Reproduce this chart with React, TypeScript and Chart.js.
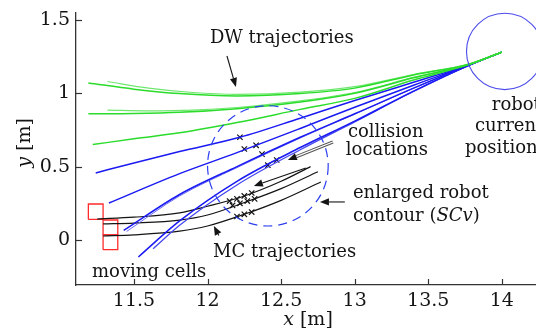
import { useEffect, useRef } from "react";
import { Chart, registerables } from "chart.js";

Chart.register(...registerables);

// Axis ranges and ticks (metres)
const X_RANGE = [11.106, 14.231];
const Y_RANGE = [-0.307, 1.547];
const X_TICKS = [11.5, 12, 12.5, 13, 13.5, 14];
const Y_TICKS = [0, 0.5, 1, 1.5];

// Dynamic-window trajectories that stay free (green)
const GREEN_1A = [[11.19, 1.07], [11.5, 1.028], [11.81, 0.998], [12.2, 0.982], [12.63, 0.998], [13.0, 1.035], [13.4, 1.125], [13.78, 1.2], [14.0, 1.28]];
const GREEN_1B = [[11.32, 1.08], [11.6, 1.035], [11.9, 1.005], [12.2, 0.993], [12.63, 1.008], [13.0, 1.045], [13.4, 1.128], [13.78, 1.2], [14.0, 1.28]];
const GREEN_2A = [[11.19, 0.86], [11.5, 0.862], [11.81, 0.87], [12.2, 0.895], [12.63, 0.94], [13.0, 1.0], [13.4, 1.105], [13.78, 1.198], [14.0, 1.28]];
const GREEN_2B = [[11.32, 0.885], [11.6, 0.88], [11.9, 0.885], [12.2, 0.903], [12.63, 0.948], [13.0, 1.005], [13.4, 1.108], [13.78, 1.198], [14.0, 1.28]];
const GREEN_3 = [[11.22, 0.65], [11.5, 0.69], [11.81, 0.73], [12.2, 0.8], [12.63, 0.89], [13.0, 0.965], [13.4, 1.09], [13.78, 1.197], [14.0, 1.28]];

// Dynamic-window trajectories in collision (blue)
const BLUE_1 = [[11.24, 0.457], [11.5, 0.525], [11.81, 0.603], [12.22, 0.7], [12.63, 0.83], [13.0, 0.95], [13.4, 1.075], [13.78, 1.195], [14.0, 1.28]];
const BLUE_2 = [[11.33, 0.252], [11.81, 0.452], [12.2, 0.595], [12.63, 0.76], [13.0, 0.905], [13.4, 1.055], [13.78, 1.194], [14.0, 1.28]];
const BLUE_3A = [[11.43, 0.065], [11.81, 0.31], [12.2, 0.5], [12.63, 0.7], [13.0, 0.86], [13.4, 1.035], [13.78, 1.193], [14.0, 1.28]];
const BLUE_3B = [[11.45, 0.058], [11.81, 0.3], [12.2, 0.493], [12.63, 0.695], [13.0, 0.857], [13.4, 1.034], [13.78, 1.193], [14.0, 1.28]];
const BLUE_4A = [[11.53, -0.116], [11.81, 0.13], [12.2, 0.4], [12.63, 0.63], [13.0, 0.81], [13.4, 1.015], [13.78, 1.192], [14.0, 1.28]];
const BLUE_4B = [[11.63, -0.06], [11.81, 0.1], [12.2, 0.375], [12.63, 0.615], [13.0, 0.805], [13.4, 1.012], [13.78, 1.192], [14.0, 1.28]];

// Moving-cell (MC) trajectories (black)
const MC_1 = [[11.25, 0.143], [11.5, 0.155], [11.81, 0.185], [12.0, 0.23], [12.25, 0.3], [12.5, 0.4], [12.7, 0.5]];
const MC_2 = [[11.29, 0.109], [11.5, 0.115], [11.81, 0.135], [12.0, 0.17], [12.25, 0.255], [12.5, 0.35], [12.75, 0.465]];
const MC_3 = [[11.29, 0.027], [11.5, 0.035], [11.81, 0.06], [12.0, 0.095], [12.25, 0.175], [12.5, 0.27], [12.77, 0.395]];

// Collision locations
const HITS_DW = [[12.22, 0.7], [12.25, 0.62], [12.33, 0.645], [12.37, 0.585], [12.41, 0.51], [12.47, 0.545]];
const HITS_MC = [[12.15, 0.265], [12.2, 0.28], [12.25, 0.3], [12.3, 0.32], [12.17, 0.235], [12.22, 0.25], [12.27, 0.265], [12.32, 0.28], [12.2, 0.16], [12.25, 0.175], [12.3, 0.19]];

// Occupied moving cells (corners, closed)
const CELL_A = [[11.19, 0.14], [11.29, 0.14], [11.29, 0.245], [11.19, 0.245], [11.19, 0.14]];
const CELL_B = [[11.29, 0.035], [11.39, 0.035], [11.39, 0.136], [11.29, 0.136], [11.29, 0.035]];
const CELL_C = [[11.29, -0.066], [11.39, -0.066], [11.39, 0.035], [11.29, 0.035], [11.29, -0.066]];

// Robot footprint and enlarged contour SCv: centre x, centre y, radius
const ROBOT = [14.02, 1.285, 0.26];
const SCV = [12.41, 0.505, 0.41];

const SERIF = '"DejaVu Serif", serif';
const INK = "#141414";
const BLUE = "#1a1af2";
const GREEN = "#2bdc2b";

// the cross markers make Chart.js reserve a few pixels on the right;
// the canvas is drawn a little wider and the frame crops it
const VIEW_W = 536;
const VIEW_H = 331;
const CANVAS_W = 541;

type Pt = number[];

function curve(pts: Pt[], color: string, width = 1.5, smooth = true) {
  return {
    data: pts.map(([x, y]) => ({ x, y })),
    borderColor: color,
    backgroundColor: color,
    borderWidth: width,
    showLine: true,
    pointRadius: 0,
    fill: false,
    tension: smooth ? 0.35 : 0,
    cubicInterpolationMode: smooth ? "monotone" : "default",
  };
}

function crosses(pts: Pt[]) {
  return {
    data: pts.map(([x, y]) => ({ x, y })),
    showLine: false,
    pointStyle: "crossRot",
    pointRadius: 3.8,
    borderColor: INK,
    backgroundColor: INK,
    pointBorderWidth: 1.2,
  };
}

function arrow(ctx: CanvasRenderingContext2D, x1: number, y1: number, x2: number, y2: number, double = false) {
  const ang = Math.atan2(y2 - y1, x2 - x1);
  const len = 9;
  const half = 3.6;
  const bx = x2 - len * Math.cos(ang);
  const by = y2 - len * Math.sin(ang);
  ctx.save();
  ctx.lineCap = "butt";
  if (double) {
    ctx.strokeStyle = "#555";
    ctx.lineWidth = 3.2;
    ctx.beginPath();
    ctx.moveTo(x1, y1);
    ctx.lineTo(bx, by);
    ctx.stroke();
    ctx.strokeStyle = "#fff";
    ctx.lineWidth = 1.2;
    ctx.beginPath();
    ctx.moveTo(x1, y1);
    ctx.lineTo(bx, by);
    ctx.stroke();
  } else {
    ctx.strokeStyle = INK;
    ctx.lineWidth = 1.1;
    ctx.beginPath();
    ctx.moveTo(x1, y1);
    ctx.lineTo(bx, by);
    ctx.stroke();
  }
  ctx.fillStyle = INK;
  ctx.beginPath();
  ctx.moveTo(x2, y2);
  ctx.lineTo(bx + half * Math.sin(ang), by - half * Math.cos(ang));
  ctx.lineTo(bx - half * Math.sin(ang), by + half * Math.cos(ang));
  ctx.closePath();
  ctx.fill();
  ctx.restore();
}

const overlay = {
  id: "overlay",
  afterDatasetsDraw(chart: any) {
    const ctx: CanvasRenderingContext2D = chart.ctx;
    const xs = chart.scales.x;
    const ys = chart.scales.y;
    const area = chart.chartArea;
    const px = (v: number) => xs.getPixelForValue(v);
    const py = (v: number) => ys.getPixelForValue(v);

    ctx.save();

    // robot footprint
    ctx.strokeStyle = "#4b4bec";
    ctx.lineWidth = 1.1;
    ctx.beginPath();
    ctx.ellipse(px(ROBOT[0]), py(ROBOT[1]), px(ROBOT[0] + ROBOT[2]) - px(ROBOT[0]), py(ROBOT[1]) - py(ROBOT[1] + ROBOT[2]), 0, 0, Math.PI * 2);
    ctx.stroke();

    // enlarged robot contour
    ctx.strokeStyle = "#2b3ff0";
    ctx.lineWidth = 1.2;
    ctx.setLineDash([9, 6]);
    ctx.beginPath();
    ctx.ellipse(px(SCV[0]), py(SCV[1]), px(SCV[0] + SCV[2]) - px(SCV[0]), py(SCV[1]) - py(SCV[1] + SCV[2]), 0, 0, Math.PI * 2);
    ctx.stroke();
    ctx.setLineDash([]);

    // inward tick marks
    ctx.strokeStyle = "#333";
    ctx.lineWidth = 1.2;
    for (const v of Y_TICKS) {
      const y = Math.round(py(v)) + 0.5;
      ctx.beginPath();
      ctx.moveTo(area.left, y);
      ctx.lineTo(area.left + 6, y);
      ctx.stroke();
    }
    for (const v of X_TICKS) {
      const x = Math.round(px(v)) + 0.5;
      ctx.beginPath();
      ctx.moveTo(x, area.bottom);
      ctx.lineTo(x, area.bottom - 6);
      ctx.stroke();
    }

    // arrows
    arrow(ctx, px(12.132), py(1.254), px(12.193), py(1.043));
    arrow(ctx, px(12.852), py(0.668), px(12.546), py(0.545), true);
    arrow(ctx, px(12.668), py(0.491), px(12.315), py(0.368));
    arrow(ctx, px(12.933), py(0.259), px(12.764), py(0.259));
    arrow(ctx, px(12.077), py(0.03), px(12.043), py(0.095));

    // annotations
    ctx.fillStyle = INK;
    ctx.textAlign = "left";
    ctx.textBaseline = "alphabetic";
    ctx.font = `18px ${SERIF}`;
    const put = (t: string, x: number, y: number) => ctx.fillText(t, px(x), py(y));
    put("DW trajectories", 12.016, 1.343);
    put("robot", 13.932, 0.886);
    put("current", 13.817, 0.743);
    put("position", 13.749, 0.593);
    put("collision", 12.954, 0.702);
    put("locations", 12.94, 0.579);
    put("enlarged robot", 12.988, 0.286);
    put("MC trajectories", 12.037, -0.116);
    put("moving cells", 11.215, -0.252);

    // contour (SCv) with italic symbol
    let cx = px(12.988);
    const cy = py(0.13);
    const seg = (t: string, italic: boolean) => {
      ctx.font = `${italic ? "italic " : ""}18px ${SERIF}`;
      ctx.fillText(t, cx, cy);
      cx += ctx.measureText(t).width;
    };
    seg("contour (", false);
    seg("SCv", true);
    seg(")", false);

    // axis titles
    ctx.font = `italic 19px ${SERIF}`;
    const wX = ctx.measureText("x").width;
    ctx.font = `19px ${SERIF}`;
    const mPart = " [m]";
    const wM = ctx.measureText(mPart).width;
    const tx = 308 - (wX + wM) / 2;
    ctx.font = `italic 19px ${SERIF}`;
    ctx.fillText("x", tx, 325);
    ctx.font = `19px ${SERIF}`;
    ctx.fillText(mPart, tx + wX, 325);

    ctx.translate(30, 143);
    ctx.rotate(-Math.PI / 2);
    ctx.font = `italic 19px ${SERIF}`;
    const wY = ctx.measureText("y").width;
    const ty = -(wY + wM) / 2;
    ctx.fillText("y", ty, 0);
    ctx.font = `19px ${SERIF}`;
    ctx.fillText(mPart, ty + wY, 0);

    ctx.restore();
  },
};

export default function App() {
  const ref = useRef<HTMLCanvasElement>(null);

  useEffect(() => {
    const canvas = ref.current;
    if (!canvas) return;

    const datasets: any[] = [
      curve(GREEN_1A, GREEN),
      curve(GREEN_1B, "#6fe86f", 1.2),
      curve(GREEN_2A, GREEN),
      curve(GREEN_2B, "#6fe86f", 1.2),
      curve(GREEN_3, GREEN),
      curve(BLUE_1, BLUE),
      curve(BLUE_2, BLUE),
      curve(BLUE_3A, BLUE),
      curve(BLUE_3B, "#6a6af5", 1),
      curve(BLUE_4A, BLUE),
      curve(BLUE_4B, "#4646f2", 1.3),
      curve(MC_1, INK, 1.2),
      curve(MC_2, INK, 1.2),
      curve(MC_3, INK, 1.2),
      curve(CELL_A, "#ff2a2a", 1.3, false),
      curve(CELL_B, "#ff2a2a", 1.3, false),
      curve(CELL_C, "#ff2a2a", 1.3, false),
      crosses(HITS_DW),
      crosses(HITS_MC),
    ];

    const tickFont = { family: SERIF, size: 19 };

    const chart = new Chart(canvas, {
      type: "scatter",
      data: { datasets },
      plugins: [overlay],
      options: {
        animation: false,
        responsive: false,
        maintainAspectRatio: false,
        events: [],
        layout: { padding: { top: 13, right: 0, left: 0, bottom: 0 } },
        plugins: {
          legend: { display: false },
          tooltip: { enabled: false },
        },
        scales: {
          x: {
            type: "linear",
            min: X_RANGE[0],
            max: X_RANGE[1],
            afterBuildTicks: (s: any) => {
              s.ticks = X_TICKS.map((v) => ({ value: v }));
            },
            afterFit: (s: any) => {
              s.height = 46;
              s.paddingLeft = 0;
              s.paddingRight = 0;
              s.paddingTop = 0;
              s.paddingBottom = 0;
            },
            ticks: {
              font: tickFont,
              color: INK,
              padding: 5,
              maxRotation: 0,
              autoSkip: false,
              callback: (v: any) => String(v),
            },
            grid: { display: true, drawOnChartArea: false, drawTicks: false },
            border: { display: true, color: "#333", width: 1.3 },
          },
          y: {
            type: "linear",
            min: Y_RANGE[0],
            max: Y_RANGE[1],
            afterBuildTicks: (s: any) => {
              s.ticks = Y_TICKS.map((v) => ({ value: v }));
            },
            afterFit: (s: any) => {
              s.width = 76;
              s.paddingLeft = 0;
              s.paddingRight = 0;
              s.paddingTop = 0;
              s.paddingBottom = 0;
            },
            ticks: {
              font: tickFont,
              color: INK,
              padding: 6,
              autoSkip: false,
              callback: (v: any) => String(v),
            },
            grid: { display: true, drawOnChartArea: false, drawTicks: false },
            border: { display: true, color: "#333", width: 1.3 },
          },
        },
      } as any,
    });

    return () => chart.destroy();
  }, []);

  return (
    <div style={{ position: "absolute", left: 0, top: 0, width: VIEW_W, height: VIEW_H, background: "#fff", overflow: "hidden" }}>
      <canvas ref={ref} width={CANVAS_W} height={VIEW_H} style={{ display: "block", width: CANVAS_W, height: VIEW_H }} />
    </div>
  );
}
